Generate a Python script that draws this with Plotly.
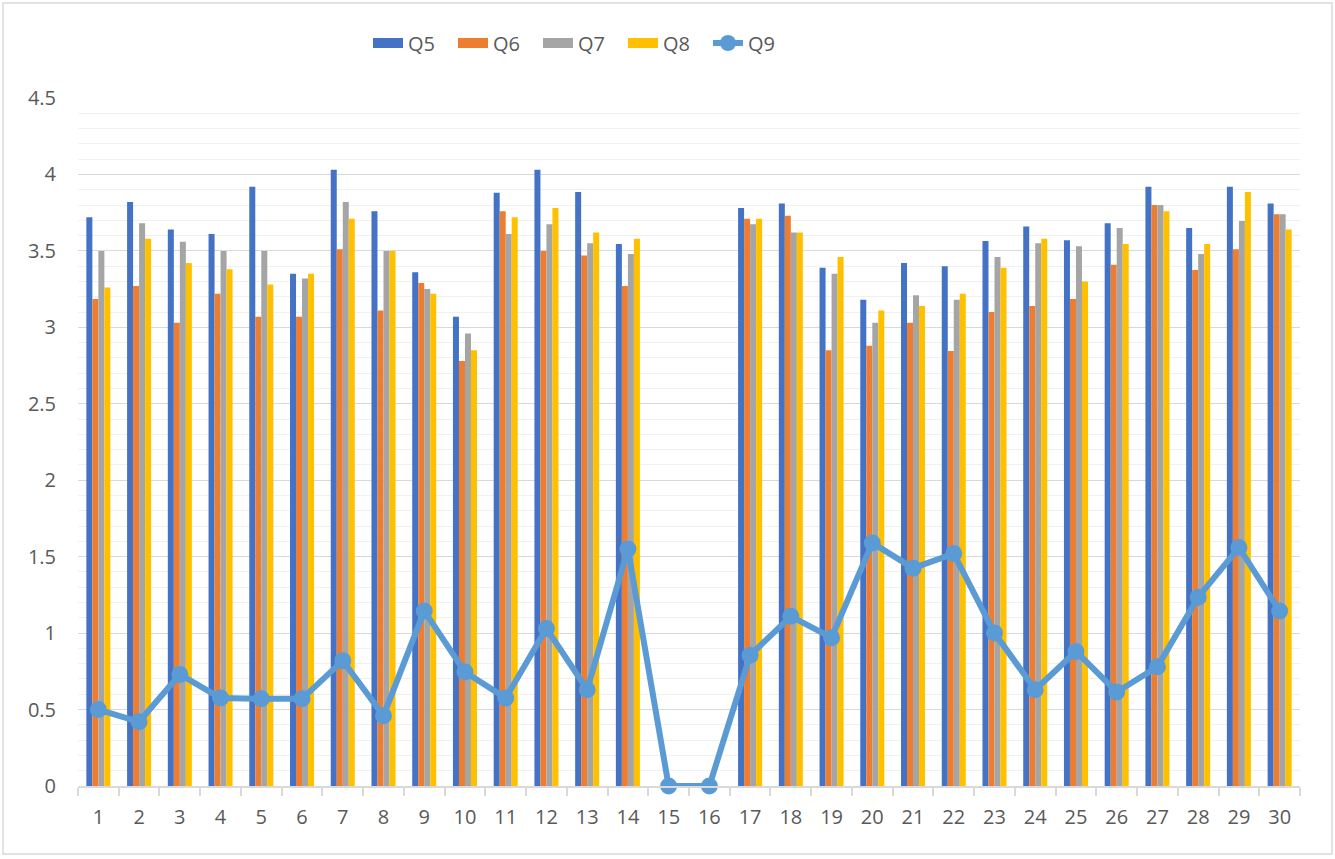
import plotly.graph_objects as go

categories = [str(i) for i in range(1, 31)]
q5 = [3.72, 3.82, 3.64, 3.61, 3.92, 3.35, 4.03, 3.76, 3.36, 3.07, 3.88, 4.03, 3.885, 3.545, None, None,
      3.78, 3.81, 3.39, 3.18, 3.42, 3.40, 3.565, 3.66, 3.57, 3.68, 3.92, 3.65, 3.92, 3.81]
q6 = [3.185, 3.27, 3.03, 3.22, 3.07, 3.07, 3.51, 3.11, 3.29, 2.78, 3.76, 3.50, 3.47, 3.27, None, None,
      3.71, 3.73, 2.85, 2.88, 3.03, 2.845, 3.10, 3.14, 3.185, 3.41, 3.80, 3.375, 3.51, 3.74]
q7 = [3.50, 3.68, 3.56, 3.50, 3.50, 3.32, 3.82, 3.50, 3.25, 2.96, 3.61, 3.675, 3.55, 3.48, None, None,
      3.675, 3.62, 3.35, 3.03, 3.21, 3.18, 3.46, 3.55, 3.53, 3.65, 3.80, 3.48, 3.695, 3.74]
q8 = [3.26, 3.58, 3.42, 3.38, 3.28, 3.35, 3.71, 3.50, 3.22, 2.85, 3.72, 3.78, 3.62, 3.58, None, None,
      3.71, 3.62, 3.46, 3.11, 3.14, 3.22, 3.39, 3.58, 3.30, 3.545, 3.76, 3.545, 3.885, 3.64]
q9 = [0.50, 0.42, 0.73, 0.575, 0.57, 0.57, 0.82, 0.46, 1.145, 0.745, 0.575, 1.03, 0.63, 1.55, 0.0, 0.0,
      0.855, 1.11, 0.97, 1.59, 1.425, 1.52, 1.00, 0.63, 0.88, 0.615, 0.78, 1.235, 1.56, 1.145]
y_ticks = [0, 0.5, 1, 1.5, 2, 2.5, 3, 3.5, 4, 4.5]
y_tick_labels = ["0", "0.5", "1", "1.5", "2", "2.5", "3", "3.5", "4", "4.5"]

bar_series = [("Q5", q5, "#4472C4"), ("Q6", q6, "#ED7D31"), ("Q7", q7, "#A5A5A5"), ("Q8", q8, "#FFC000")]

fig = go.Figure()
for name, vals, col in bar_series:
    fig.add_trace(go.Bar(x=categories, y=vals, name=name, marker=dict(color=col, line=dict(width=0)),
                         legendgroup=name, showlegend=False))
    # legend-only proxy so the legend swatch is a wide rectangle like the reference
    fig.add_trace(go.Scatter(x=[None], y=[None], name=name, mode="lines", legendgroup=name,
                             line=dict(color=col, width=14), hoverinfo="skip"))

fig.add_trace(go.Scatter(x=categories, y=q9, name="Q9", mode="lines+markers",
                         line=dict(color="#5B9BD5", width=6),
                         marker=dict(color="#5B9BD5", size=17), cliponaxis=False))

W, H = 1335, 859
L, R, T, B = 78, 35, 98, 73
pw, ph = W - L - R, H - T - B

fig.update_layout(
    width=W, height=H,
    margin=dict(l=L, r=R, t=T, b=B),
    paper_bgcolor="white", plot_bgcolor="white",
    barmode="group", bargap=0.41, bargroupgap=0,
    font=dict(family="Open Sans, Liberation Sans, Arial, sans-serif", color="#595959", size=20),
    legend=dict(orientation="h", x=(368 - L) / pw, xanchor="left", y=1 + (T - 43) / ph, yanchor="middle",
                font=dict(size=20, color="#595959"), itemwidth=30, entrywidth=40, entrywidthmode="pixels",
                traceorder="normal"),
    showlegend=True,
)
fig.update_xaxes(type="category", range=[-0.5, 29.5], tickson="boundaries", ticks="outside", ticklen=8,
                 tickcolor="#D9D9D9", tickwidth=1.5,
                 showline=True, linecolor="#D9D9D9", linewidth=1.5, showgrid=False,
                 ticklabelstandoff=12,
                 tickfont=dict(size=20, color="#595959"))
fig.update_yaxes(range=[0, 4.5], tickvals=y_ticks, ticktext=y_tick_labels, showgrid=True,
                 gridcolor="#D9D9D9", gridwidth=1.3, zeroline=False, showline=False,
                 ticks="", ticklabelstandoff=21,
                 minor=dict(dtick=0.1, showgrid=True, gridcolor="#F0F0F0", gridwidth=1.3),
                 tickfont=dict(size=20, color="#595959"))

fig.add_shape(type="rect", xref="paper", yref="paper",
              x0=(3 - L) / pw, x1=(1332 - L) / pw, y0=(H - B - 854) / ph, y1=(H - B - 3) / ph,
              line=dict(color="#D9D9D9", width=1.5), fillcolor="rgba(0,0,0,0)", layer="below")

fig.write_html("out.html")
